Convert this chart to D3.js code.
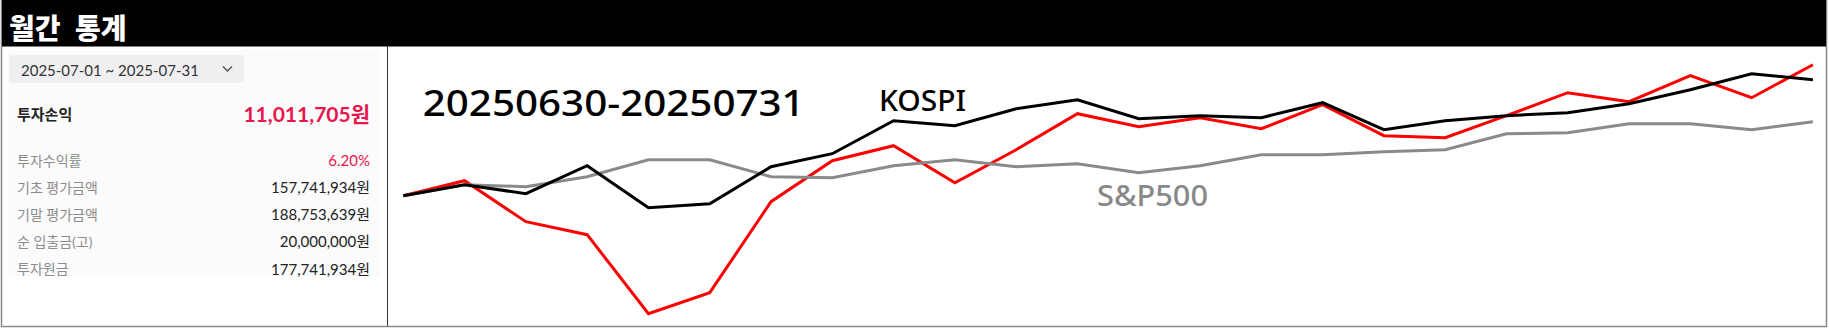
<!DOCTYPE html>
<html>
<head>
<meta charset="utf-8">
<script src="https://cdn.jsdelivr.net/npm/d3@7"></script>
<style>
  html, body { margin: 0; padding: 0; background: #fff; }
  svg { display: block; }
</style>
</head>
<body>
<div id="chart"></div>
<script>
// trading days from 2025-06-30 to 2025-07-31
const dates = ['06-30', '07-01', '07-02', '07-03', '07-04', '07-07', '07-08', '07-09', '07-10', '07-11',
  '07-14', '07-15', '07-16', '07-17', '07-18', '07-21', '07-22', '07-23', '07-24', '07-25',
  '07-28', '07-29', '07-30', '07-31'];

// cumulative return (%)
const portfolio = [0, 1.5, -2.6, -3.9, -11.8, -9.7, -0.6, 3.5, 5.0, 1.3, 4.6, 8.2, 6.9, 7.8, 6.7, 9.1,
  6.0, 5.8, 8.0, 10.3, 9.4, 12.0, 9.8, 13.1];
const kospi = [0, 1.1, 0.2, 3.0, -1.2, -0.8, 2.9, 4.2, 7.5, 7.0, 8.7, 9.6, 7.7, 8.0, 7.8, 9.3,
  6.6, 7.5, 8.0, 8.3, 9.2, 10.6, 12.2, 11.6];
const sp500 = [0, 1.1, 0.9, 1.9, 3.6, 3.6, 1.9, 1.8, 3.0, 3.6, 2.9, 3.2, 2.3, 3.0, 4.1, 4.1,
  4.4, 4.6, 6.2, 6.3, 7.2, 7.2, 6.6, 7.4];

const periodLabel = '2025-07-01 ~ 2025-07-31';
const chartTitle = '20250630-20250731';
const profitLabel = '투자손익';
const profitValue = '11,011,705원';
const rowLabels = ['투자수익률', '기초 평가금액', '기말 평가금액', '순 입출금(고)', '투자원금'];
const rowValues = ['6.20%', '157,741,934원', '188,753,639원', '20,000,000원', '177,741,934원'];

const width = 1829;
const height = 330;
const accent = '#e8164c';
const latinKo = 'Lato, "Noto Sans CJK KR", sans-serif';

const svg = d3.select('#chart').append('svg')
  .attr('width', width)
  .attr('height', height);

// frame + title bar
svg.append('rect')
  .attr('x', 1.5).attr('y', 0.5)
  .attr('width', 1825).attr('height', 326)
  .attr('fill', '#fff')
  .attr('stroke', '#888')
  .attr('stroke-width', 1.5);

svg.append('rect')
  .attr('x', 2).attr('y', 0)
  .attr('width', 1824).attr('height', 46.5)
  .attr('fill', '#000');

svg.append('text')
  .attr('x', 9)
  .attr('y', 27)
  .attr('dominant-baseline', 'central')
  .attr('fill', '#fff')
  .attr('font-family', '"Noto Sans CJK KR", sans-serif')
  .attr('font-weight', 900)
  .attr('font-size', 28)
  .attr('word-spacing', 8)
  .text('월간 통계');

// left summary panel
const panel = svg.append('g');

panel.append('rect')
  .attr('x', 8).attr('y', 50)
  .attr('width', 372).attr('height', 226)
  .attr('fill', '#fbfbfc');

panel.append('rect')
  .attr('x', 9).attr('y', 55)
  .attr('width', 235).attr('height', 28)
  .attr('rx', 3)
  .attr('fill', '#efeff1');

panel.append('text')
  .attr('x', 21).attr('y', 69.5)
  .attr('dominant-baseline', 'central')
  .attr('font-family', latinKo)
  .attr('font-size', 15)
  .attr('fill', '#333')
  .text(periodLabel);

panel.append('path')
  .attr('d', 'M223,66.5 L227.5,71 L232,66.5')
  .attr('fill', 'none')
  .attr('stroke', '#555')
  .attr('stroke-width', 1.5);

panel.append('text')
  .attr('x', 17).attr('y', 113.5)
  .attr('dominant-baseline', 'central')
  .attr('font-family', latinKo)
  .attr('font-weight', 700)
  .attr('font-size', 15)
  .attr('fill', '#222')
  .text(profitLabel);

panel.append('text')
  .attr('x', 370).attr('y', 113.5)
  .attr('text-anchor', 'end')
  .attr('dominant-baseline', 'central')
  .attr('font-family', latinKo)
  .attr('font-weight', 700)
  .attr('font-size', 21)
  .attr('fill', accent)
  .text(profitValue);

const rowY = d3.scalePoint().domain(rowLabels).range([160, 268.5]);

panel.selectAll('text.row-label')
  .data(rowLabels)
  .enter().append('text')
    .attr('class', 'row-label')
    .attr('x', 17)
    .attr('y', d => rowY(d))
    .attr('dominant-baseline', 'central')
    .attr('font-family', latinKo)
    .attr('font-size', 14)
    .attr('fill', '#8c8c8c')
    .text(d => d);

panel.selectAll('text.row-value')
  .data(rowValues)
  .enter().append('text')
    .attr('class', 'row-value')
    .attr('x', 370)
    .attr('y', (d, i) => rowY(rowLabels[i]))
    .attr('text-anchor', 'end')
    .attr('dominant-baseline', 'central')
    .attr('font-family', latinKo)
    .attr('font-size', 15)
    .attr('fill', (d, i) => i === 0 ? accent : '#222')
    .text(d => d);

svg.append('line')
  .attr('x1', 387.5).attr('x2', 387.5)
  .attr('y1', 46).attr('y2', 326)
  .attr('stroke', '#333')
  .attr('stroke-width', 1);

// line chart
const x = d3.scalePoint().domain(dates).range([403.3, 1812.9]);
const y = d3.scaleLinear().domain([-12, 13]).range([315.7, 65.7]);

const line = d3.line()
  .x((d, i) => x(dates[i]))
  .y(d => y(d));

const series = [
  { name: 'portfolio', values: portfolio, color: '#ff0000' },
  { name: 'S&P500', values: sp500, color: '#8a8a8a' },
  { name: 'KOSPI', values: kospi, color: '#000' }
];

svg.selectAll('path.series')
  .data(series)
  .enter().append('path')
    .attr('class', 'series')
    .attr('d', d => line(d.values))
    .attr('fill', 'none')
    .attr('stroke', d => d.color)
    .attr('stroke-width', 3)
    .attr('stroke-linejoin', 'miter');

svg.append('text')
  .attr('x', 422.7).attr('y', 116)
  .attr('font-family', '"Noto Sans", sans-serif')
  .attr('font-weight', 500)
  .attr('font-size', 36)
  .attr('textLength', 382)
  .attr('lengthAdjust', 'spacingAndGlyphs')
  .attr('fill', '#000')
  .text(chartTitle);

svg.append('text')
  .attr('x', 879).attr('y', 111)
  .attr('font-family', '"Noto Sans", sans-serif')
  .attr('font-weight', 500)
  .attr('font-size', 29)
  .attr('textLength', 87)
  .attr('lengthAdjust', 'spacingAndGlyphs')
  .attr('fill', '#000')
  .text('KOSPI');

svg.append('text')
  .attr('x', 1097).attr('y', 205.7)
  .attr('font-family', '"Noto Sans", sans-serif')
  .attr('font-weight', 500)
  .attr('font-size', 29)
  .attr('textLength', 111)
  .attr('lengthAdjust', 'spacingAndGlyphs')
  .attr('fill', '#888')
  .text('S&P500');
</script>
</body>
</html>
